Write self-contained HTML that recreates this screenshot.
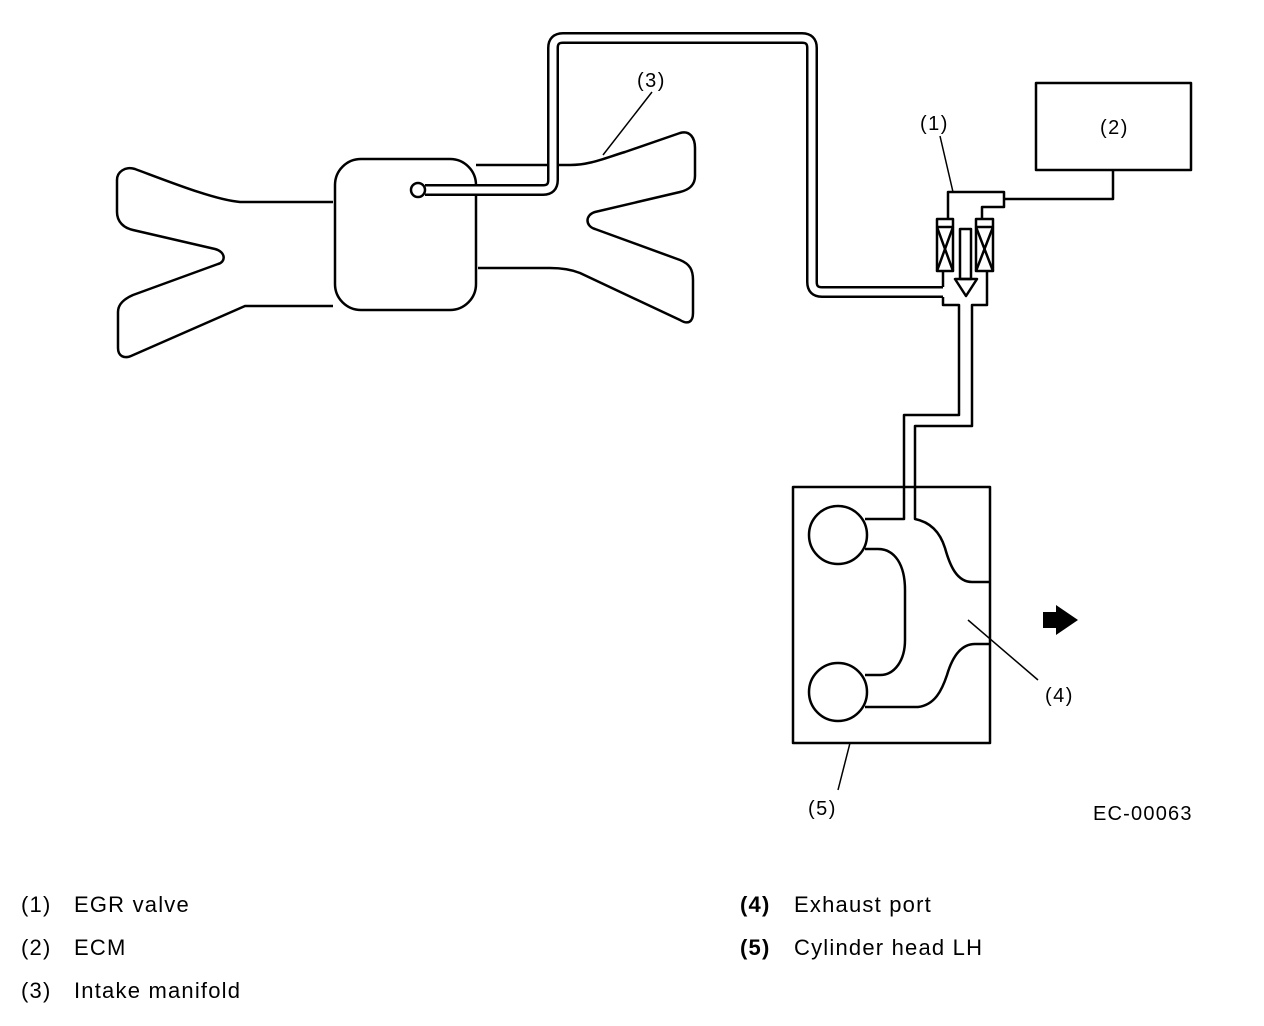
<!DOCTYPE html>
<html><head><meta charset="utf-8"><style>
html,body{margin:0;padding:0;background:#fff;}
svg{display:block;}
text{font-family:"Liberation Sans",sans-serif;fill:#000;}
</style></head><body>
<svg width="1264" height="1026" viewBox="0 0 1264 1026" xmlns="http://www.w3.org/2000/svg">
<g fill="none" stroke="#000" stroke-width="2.5" stroke-linejoin="round">
<path d="M333,202 L240,202 C215,200 170,182 135,169 C125,166 117,172 117,180 L117,212 C117,222 124,228 133,230 L215,249 C226,252 226,262 218,264 L133,295 C124,299 118,304 118,312 L118,348 C118,356 124,359 131,356 L245,306 L333,306"/>
<rect x="335" y="159" width="141" height="151" rx="26"/>
<path d="M476,165 L570,165 C590,165 605,158 625,152 L680,133 C690,130 695,138 695,148 L695,176 C695,186 688,190 680,192 L595,212 C585,215 585,226 595,229 L680,260 C690,264 693,270 693,280 L693,313 C693,322 688,325 680,320 L580,273 C570,269 560,268 550,268 L478,268"/>
<rect x="1036" y="83" width="155" height="87"/>
<path d="M1113,170 L1113,199 L1004,199"/>
<path d="M948,219 L948,192 L1004,192 L1004,207 L982,207 L982,219"/>
<rect x="937" y="219" width="16" height="52"/>
<line x1="937" y1="227" x2="953" y2="227"/>
<path d="M937,227 L953,271 M953,227 L937,271"/>
<rect x="976" y="219" width="17" height="52"/>
<line x1="976" y1="227" x2="993" y2="227"/>
<path d="M976,227 L993,271 M993,227 L976,271"/>
<rect x="960" y="229" width="11" height="50"/>
<path d="M955,279 L977,279 L966,296 Z"/>
<path d="M943,271 L943,287"/>
<path d="M943,297 L943,305 L959,305 L959,415 L904,415 L904,519 L865,519"/>
<path d="M987,271 L987,305 L972,305 L972,426 L915,426 L915,519 C930,522 940,532 945,548 C950,566 957,582 972,582 L990,582"/>
<rect x="793" y="487" width="197" height="256"/>
<circle cx="838" cy="535" r="29"/>
<circle cx="838" cy="692" r="29"/>
<path d="M865,549 L878,549 C895,549 905,565 905,590 L905,640 C905,660 895,675 880,675 L865,675"/>
<path d="M865,707 L918,707 C935,705 942,690 947,675 C952,658 960,644 975,644 L990,644"/>
</g>
<path d="M425,190 L543,190 Q553,190 553,180 L553,48 Q553,38 563,38 L802,38 Q812,38 812,48 L812,282 Q812,292 822,292 L943,292" fill="none" stroke="#000" stroke-width="12"/>
<path d="M425,190 L543,190 Q553,190 553,180 L553,48 Q553,38 563,38 L802,38 Q812,38 812,48 L812,282 Q812,292 822,292 L945,292" fill="none" stroke="#fff" stroke-width="7"/>
<circle cx="418" cy="190" r="7" fill="#fff" stroke="#000" stroke-width="2.5"/>
<g stroke="#000" stroke-width="1.5">
<line x1="652" y1="92" x2="603" y2="155"/>
<line x1="940" y1="136" x2="953" y2="192"/>
<line x1="968" y1="620" x2="1038" y2="680"/>
<line x1="850" y1="743" x2="838" y2="790"/>
</g>
<path d="M1043,612 L1056,612 L1056,605 L1078,620 L1056,635 L1056,628 L1043,628 Z" fill="#000"/>
<g font-size="20" letter-spacing="1.5">
<text x="637" y="87">(3)</text>
<text x="920" y="130">(1)</text>
<text x="1100" y="134">(2)</text>
<text x="1045" y="702">(4)</text>
<text x="808" y="815">(5)</text>
<text x="1093" y="820" letter-spacing="1.2">EC-00063</text>
</g>
<g font-size="22" letter-spacing="1.2">
<text x="21" y="912">(1)</text><text x="74" y="912">EGR valve</text>
<text x="21" y="955">(2)</text><text x="74" y="955">ECM</text>
<text x="21" y="998">(3)</text><text x="74" y="998">Intake manifold</text>
<text x="740" y="912" font-weight="bold">(4)</text><text x="794" y="912">Exhaust port</text>
<text x="740" y="955" font-weight="bold">(5)</text><text x="794" y="955">Cylinder head LH</text>
</g>
</svg>
</body></html>
